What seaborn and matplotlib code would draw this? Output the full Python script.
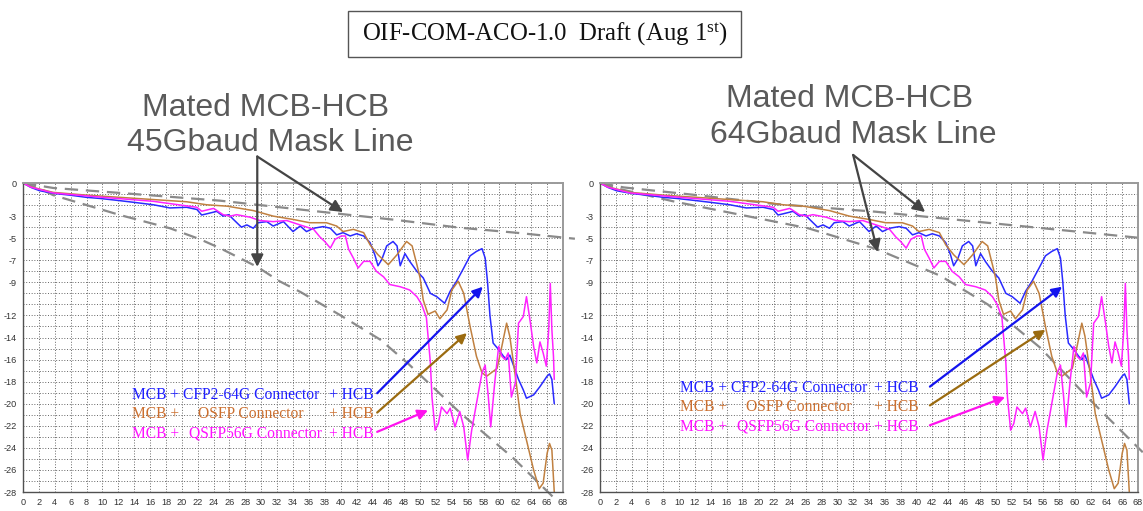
import numpy as np
import pandas as pd
import matplotlib
matplotlib.use("Agg")
import matplotlib.pyplot as plt
import seaborn as sns
from matplotlib.transforms import offset_copy
from matplotlib.patches import Rectangle

# ---------------- data ----------------
blue_f = [0, 1.0, 2.1, 4.0, 5.9, 8.0, 9.7, 12.2, 14.5, 16.4, 18.5, 20.6, 21.9, 22.5, 23.1, 24.4,
          25.2, 25.9, 26.5, 27.5, 28.2, 29.0, 29.6, 30.7, 31.5, 32.8, 34.0, 34.9, 35.7, 36.6,
          37.8, 38.7, 39.5, 40.3, 41.2, 42.0, 42.9, 43.7, 44.3, 44.7, 45.2, 45.8, 46.6, 47.1,
          47.5, 48.1, 48.7, 49.6, 50.4, 51.3, 52.1, 53.1, 53.8, 54.6, 55.5, 56.3, 57.1, 57.8,
          58.2, 58.5, 58.8, 59.2, 59.9, 60.5, 60.9, 61.3, 61.8, 62.4, 63.0, 63.4, 64.3, 65.1,
          66.0, 66.3, 66.6, 66.9]
blue_db = [0, -0.4, -0.7, -0.95, -1.1, -1.3, -1.4, -1.6, -1.8, -1.97, -2.26, -2.2, -2.4, -2.9, -2.8, -2.57,
           -3.0, -2.87, -3.3, -4.0, -3.8, -4.1, -3.6, -3.5, -3.9, -3.5, -4.4, -3.9, -4.4, -4.1,
           -3.95, -4.1, -4.7, -4.5, -4.8, -4.6, -4.8, -5.4, -6.5, -7.5, -6.9, -5.7, -5.3, -5.7,
           -7.5, -6.4, -7.1, -8.0, -8.6, -10.0, -10.3, -10.9, -9.8, -8.9, -7.7, -6.6, -6.2, -5.95,
           -6.8, -9.0, -12.0, -14.5, -15.1, -15.7, -16.0, -15.6, -16.6, -17.8, -18.75, -19.5, -19.2, -18.45,
           -17.5, -17.3, -17.8, -20.0]

brown_f = [0, 1.0, 3.8, 8.0, 12.2, 16.4, 20.6, 23.1, 25.7, 29.0, 31.5, 34.0, 36.1, 38.2, 39.5,
           40.3, 41.6, 42.9, 43.7, 44.7, 46.0, 47.1, 48.3, 49.0, 49.6, 50.0, 50.4, 51.0, 51.9,
           52.5, 53.4, 54.0, 54.8, 55.5, 56.3, 57.1, 57.8, 58.4, 59.7, 60.3, 60.9, 61.3, 62.0,
           62.6, 63.4, 64.3, 65.0, 65.5, 66.0, 66.3, 66.6, 66.9]
brown_db = [0, -0.35, -0.85, -1.1, -1.3, -1.5, -1.7, -1.97, -2.1, -2.5, -3.0, -3.3, -3.6, -3.6, -3.9,
            -4.4, -4.2, -4.5, -5.6, -6.5, -7.4, -6.5, -5.3, -5.7, -7.4, -8.6, -10.6, -11.9, -11.6,
            -12.3, -11.5, -9.7, -8.9, -10.0, -13.0, -15.7, -17.2, -17.5, -16.8, -14.8, -12.7, -13.9, -17.5,
            -20.9, -23.3, -26.0, -27.7, -27.2, -24.5, -23.6, -24.2, -28.0]

magenta_f = [0, 1.0, 3.8, 10.1, 16.4, 21.9, 22.5, 24.0, 25.2, 26.1, 26.9, 28.6, 29.8, 31.5, 33.2,
             34.9, 36.6, 37.4, 38.0, 38.7, 39.3, 40.1, 40.6, 41.0, 41.6, 42.2, 42.9, 43.7, 44.5,
             45.4, 46.2, 47.5, 48.7, 49.6, 50.2, 50.8, 51.3, 51.5, 51.9, 52.3, 52.7, 53.4, 53.8,
             54.4, 55.0, 55.5, 56.0, 56.5, 57.1, 57.8, 58.2, 58.6, 58.9, 59.4, 59.9, 60.3, 60.7,
             61.1, 61.5, 62.0, 62.4, 63.0, 63.4, 63.9, 64.3, 64.7, 65.1, 65.5, 65.9, 66.2, 66.4,
             66.6, 66.8, 66.9]
magenta_db = [0, -0.38, -0.9, -1.3, -1.66, -2.2, -2.56, -2.3, -2.87, -3.0, -2.87, -3.1, -3.4, -3.5, -3.4,
              -3.8, -4.2, -4.9, -5.3, -5.9, -5.1, -4.8, -4.8, -6.0, -6.8, -7.7, -7.1, -7.1, -8.0,
              -8.5, -9.2, -9.4, -9.7, -10.3, -11.0, -12.2, -16.3, -19.4, -22.4, -21.8, -20.3, -20.9, -20.4,
              -22.1, -20.7, -22.1, -25.1, -22.4, -20.0, -17.2, -16.5, -19.4, -22.1, -18.1, -14.8, -15.7, -16.0,
              -15.4, -19.4, -18.1, -12.7, -12.1, -10.3, -12.7, -14.8, -16.3, -14.4, -15.4, -16.6, -13.3, -9.1,
              -13.3, -15.7, -17.8]

# 45 Gbaud mask lines (left panel)
m45_up_f = [0, 3.8, 12.2, 24.8, 37.4, 47.0, 55.0, 62.0, 69.5]
m45_up_db = [0, -0.45, -0.9, -1.6, -2.6, -3.35, -4.05, -4.5, -5.05]
m45_lo_f = [0, 2.1, 3.8, 8.0, 12.2, 18.5, 22.3, 24.8, 29.5, 32.3, 35.0, 40.0, 45.0, 48.4, 55.0, 61.7, 67.1]
m45_lo_db = [0, -0.5, -1.1, -2.0, -2.9, -4.1, -5.1, -5.9, -7.6, -8.9, -9.9, -12.0, -14.2, -16.3, -20.8, -24.9, -28.7]

# 64 Gbaud mask lines (right panel)
m64_up_f = [0, 3.0, 11.6, 22.1, 34.8, 41.1, 56.0, 68.6]
m64_up_db = [0, -0.4, -1.05, -1.9, -2.6, -3.05, -4.1, -5.0]
m64_lo_f = [0, 1.9, 9.5, 17.9, 26.3, 35.0, 43.0, 49.0, 55.6, 62.0, 68.6]
m64_lo_db = [0, -0.45, -1.7, -2.9, -4.1, -6.0, -8.4, -11.0, -14.9, -19.7, -24.4]

x_ticks = list(range(0, 69, 2))
y_labelled = [0, -3, -5, -7, -9, -12, -14, -16, -18, -20, -22, -24, -26, -28]

series_names = ["CFP2-64G", "OSFP", "QSFP56G"]
legend_mid = ["CFP2-64G Connector", "OSFP Connector", "QSFP56G Connector"]

# ---------------- style ----------------
sns.set_theme(style="white")
plt.rcParams["font.family"] = ["Liberation Sans", "DejaVu Sans"]
plt.rcParams["mathtext.fontset"] = "custom"
plt.rcParams["mathtext.rm"] = "Liberation Serif"
plt.rcParams["mathtext.it"] = "Liberation Serif:italic"

curve_colors = {"CFP2-64G": "#2a2aff", "OSFP": "#c08040", "QSFP56G": "#ff22ff"}
text_colors = ["#1f1fff", "#cc7030", "#ff11ff"]
arrow_colors = ["#1414ee", "#9b6b10", "#ff11ee"]
mask_color = "#8a8a8a"

W, H = 1143, 511
fig = plt.figure(figsize=(W / 100, H / 100), dpi=100)
fig.patch.set_facecolor("white")


def rect(x0, x1, y0, y1):
    return [x0 / W, 1 - y1 / H, (x1 - x0) / W, (y1 - y0) / H]


axL = fig.add_axes(rect(23, 563, 183, 492))
axR = fig.add_axes(rect(600, 1138, 183, 492))

curves = pd.concat([
    pd.DataFrame({"f": blue_f, "dB": blue_db, "series": "CFP2-64G"}),
    pd.DataFrame({"f": brown_f, "dB": brown_db, "series": "OSFP"}),
    pd.DataFrame({"f": magenta_f, "dB": magenta_db, "series": "QSFP56G"}),
], ignore_index=True)


def setup_panel(ax, up_f, up_db, lo_f, lo_db):
    ax.set_facecolor("white")
    for mf, mdb in ((up_f, up_db), (lo_f, lo_db)):
        n0 = len(ax.lines)
        sns.lineplot(x=mf, y=mdb, ax=ax, color=mask_color, lw=1.6,
                     estimator=None, sort=False)
        for ln in ax.lines[n0:]:
            ln.set_dashes([6, 3.5])
            ln.set_clip_on(False)
            ln.set_zorder(1.8)
    n0 = len(ax.lines)
    sns.lineplot(data=curves, x="f", y="dB", hue="series", palette=curve_colors,
                 hue_order=series_names, ax=ax, lw=1.1, estimator=None,
                 sort=False, legend=False)
    for ln in ax.lines[n0:]:
        ln.set_zorder(2.2)
    ax.set_xlim(0, 68)
    ax.set_ylim(-28, 0)
    ax.set_xticks(x_ticks)
    ax.set_xticklabels([str(v) for v in x_ticks])
    yt = list(range(-28, 1))
    ax.set_yticks(yt)
    ax.set_yticklabels([str(v) if v in y_labelled else "" for v in yt])
    ax.set_xlabel("")
    ax.set_ylabel("")
    ax.grid(True, color="#666666", linestyle=(0, (1, 1.8)), lw=0.7)
    ax.set_axisbelow(True)
    ax.tick_params(axis="both", length=3, width=0.8, pad=1.5, labelsize=6.6,
                   colors="#333333", direction="out")
    for s in ("left", "bottom"):
        ax.spines[s].set_color("#505050")
        ax.spines[s].set_linewidth(1.0)
    for s in ("top", "right"):
        ax.spines[s].set_color("#9a9a9a")
        ax.spines[s].set_linewidth(1.4)


setup_panel(axL, m45_up_f, m45_up_db, m45_lo_f, m45_lo_db)
setup_panel(axR, m64_up_f, m64_up_db, m64_lo_f, m64_lo_db)

# ---------------- title box ----------------
fig.patches.append(Rectangle((348 / W, 1 - 57 / H), 393 / W, 46 / H,
                             transform=fig.transFigure, fill=False,
                             ec="#555555", lw=1.0))
fig.text(545 / W, 1 - 34 / H, r"OIF-COM-ACO-1.0  Draft (Aug 1$^{\mathrm{st}}$)",
         family="Liberation Serif", fontsize=17.8, ha="center", va="center",
         color="#111111")

# ---------------- gray mask annotations ----------------
gray_txt = "#5a5a5a"
fig.text(266 / W, 1 - 116 / H, "Mated MCB-HCB", family="Liberation Sans",
         fontsize=23, color=gray_txt, ha="center", va="baseline")
fig.text(270 / W, 1 - 151 / H, "45Gbaud Mask Line", family="Liberation Sans",
         fontsize=23, color=gray_txt, ha="center", va="baseline")
fig.text(850 / W, 1 - 107 / H, "Mated MCB-HCB", family="Liberation Sans",
         fontsize=23, color=gray_txt, ha="center", va="baseline")
fig.text(853 / W, 1 - 143 / H, "64Gbaud Mask Line", family="Liberation Sans",
         fontsize=23, color=gray_txt, ha="center", va="baseline")

gray_arrow = dict(arrowstyle="-|>", color="#444444", lw=1.6, mutation_scale=18,
                  shrinkA=0, shrinkB=0)
for ax, start, heads in (
        (axL, (29.5, 2.4), [(29.5, -7.6), (40.3, -2.63)]),
        (axR, (32.0, 2.54), [(35.1, -6.25), (41.1, -2.63)])):
    for hd in heads:
        ax.annotate("", xy=hd, xytext=start, xycoords="data", textcoords="data",
                    arrowprops=gray_arrow, annotation_clip=False, zorder=5)

# ---------------- coloured legend texts and arrows ----------------
mid_offsets = [51, 66, 57]  # pixels from line start


def legend_block(ax, f_start, f_end, ys, tails_f, heads):
    for i in range(3):
        y = ys[i]
        kw = dict(family="Liberation Serif", fontsize=11.2, color=text_colors[i],
                  va="center", zorder=6)
        ax.text(f_start, y, "MCB +", ha="left", **kw)
        tr = offset_copy(ax.transData, fig=fig, x=mid_offsets[i], y=0, units="dots")
        ax.text(f_start, y, legend_mid[i], ha="left", transform=tr, **kw)
        ax.text(f_end, y, "+ HCB", ha="right", **kw)
        ax.annotate("", xy=heads[i], xytext=(tails_f, y + 0.15), xycoords="data",
                    textcoords="data", annotation_clip=False, zorder=6,
                    arrowprops=dict(arrowstyle="-|>", color=arrow_colors[i], lw=1.6,
                                    mutation_scale=15, shrinkA=0, shrinkB=0))


legend_block(axL, 13.7, 44.1, [-19.2, -20.95, -22.7], 44.6,
             [(57.9, -9.4), (55.9, -13.6), (51.0, -20.6)])
legend_block(axR, 10.1, 40.3, [-18.6, -20.3, -22.1], 41.7,
             [(58.4, -9.4), (56.3, -13.3), (51.2, -19.4)])

fig.savefig("out.png", dpi=100, facecolor="white")
